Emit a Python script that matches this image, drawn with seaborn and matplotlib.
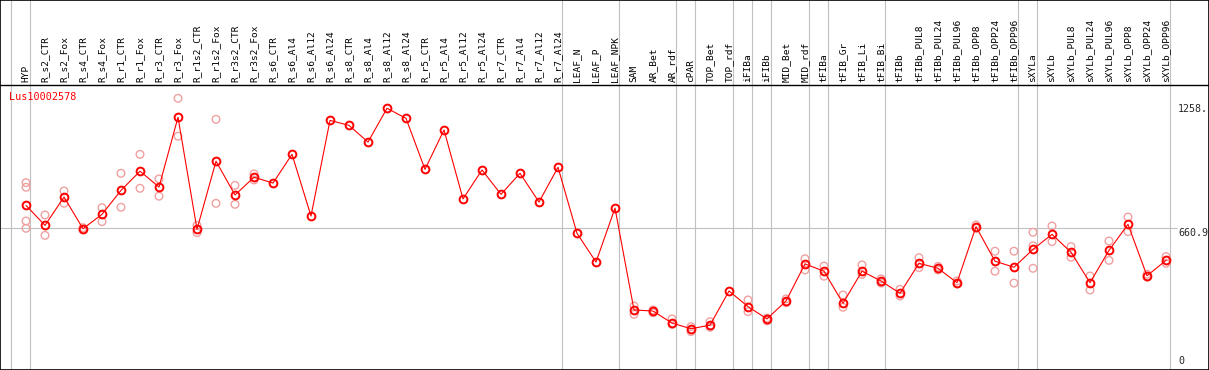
import pandas as pd
from matplotlib import pyplot as plt
import numpy as np
import seaborn as sns

gene = "Lus10002578"

samples = ["HYP", "R_s2_CTR", "R_s2_Fox", "R_s4_CTR", "R_s4_Fox", "R_r1_CTR", "R_r1_Fox",
           "R_r3_CTR", "R_r3_Fox", "R_r1s2_CTR", "R_r1s2_Fox", "R_r3s2_CTR", "R_r3s2_Fox",
           "R_s6_CTR", "R_s6_Al4", "R_s6_Al12", "R_s6_Al24", "R_s8_CTR", "R_s8_Al4",
           "R_s8_Al12", "R_s8_Al24", "R_r5_CTR", "R_r5_Al4", "R_r5_Al12", "R_r5_Al24",
           "R_r7_CTR", "R_r7_Al4", "R_r7_Al12", "R_r7_Al24", "LEAF_N", "LEAF_P", "LEAF_NPK",
           "SAM", "AR_Bet", "AR_rdf", "cPAR", "TOP_Bet", "TOP_rdf", "iFIBa", "iFIBb",
           "MID_Bet", "MID_rdf", "tFIBa", "tFIB_Gr", "tFIB_Li", "tFIB_Bi", "tFIBb",
           "tFIBb_PUL8", "tFIBb_PUL24", "tFIBb_PUL96", "tFIBb_OPP8", "tFIBb_OPP24",
           "tFIBb_OPP96", "sXYLa", "sXYLb", "sXYLb_PUL8", "sXYLb_PUL24", "sXYLb_PUL96",
           "sXYLb_OPP8", "sXYLb_OPP24", "sXYLb_OPP96"]

means = [771, 675, 811, 659, 728, 843, 935, 859, 1194, 656, 983, 821, 906,
         878, 1016, 720, 1179, 1155, 1075, 1237, 1189, 944, 1133, 802, 941,
         824, 925, 787, 954, 637, 499, 758,
         269, 264, 206, 179, 196, 360, 285, 226, 312, 490, 455, 301, 455, 408, 349,
         493, 469, 400, 669, 503, 474, 560, 632, 546, 400, 555, 680, 433, 507]

replicates = {
    "HYP": [880, 858, 696, 661], "R_s2_CTR": [725, 627], "R_s2_Fox": [840, 781],
    "R_s4_CTR": [664, 654], "R_s4_Fox": [760, 693], "R_r1_CTR": [925, 762],
    "R_r1_Fox": [1016, 853], "R_r3_CTR": [898, 815], "R_r3_Fox": [1285, 1103],
    "R_r1s2_CTR": [675, 640], "R_r1s2_Fox": [1184, 781], "R_r3s2_CTR": [867, 776],
    "R_r3s2_Fox": [922, 893], "SAM": [288, 248], "AR_Bet": [269, 256],
    "AR_rdf": [226, 200], "cPAR": [189, 165], "TOP_Bet": [213, 186],
    "iFIBa": [317, 261], "iFIBb": [217, 230], "MID_Bet": [322, 304],
    "MID_rdf": [515, 461], "tFIBa": [480, 431], "tFIB_Gr": [341, 282],
    "tFIB_Li": [485, 440], "tFIB_Bi": [418, 398], "tFIBb": [368, 336],
    "tFIBb_PUL8": [520, 472], "tFIBb_PUL24": [478, 461], "tFIBb_PUL96": [408, 394],
    "tFIBb_OPP8": [677, 662], "tFIBb_OPP24": [551, 455], "tFIBb_OPP96": [551, 398],
    "sXYLa": [642, 577, 469], "sXYLb": [672, 597], "sXYLb_PUL8": [573, 522],
    "sXYLb_PUL24": [432, 365], "sXYLb_PUL96": [600, 507], "sXYLb_OPP8": [715, 645],
    "sXYLb_OPP24": [440, 427], "sXYLb_OPP96": [525, 493],
}

# group separators come after these samples (plus one before the first)
separators_after = ["HYP", "R_r7_Al24", "LEAF_NPK", "AR_rdf", "cPAR", "TOP_rdf", "iFIBa",
                    "iFIBb", "MID_rdf", "tFIBa", "tFIB_Bi", "tFIBb_OPP96", "sXYLa", "sXYLb_OPP96"]

axis_marks = [1258, 660.9, 0]

df = pd.DataFrame({"pos": np.arange(len(samples)), "sample": samples, "value": means})
rep_rows = [(samples.index(s), v) for s, vals in replicates.items() for v in vals]
reps = pd.DataFrame(rep_rows, columns=["pos", "value"])

sns.set_style("white")
plt.rcParams["font.family"] = ["DejaVu Sans Mono"]

W, H = 1209, 370
fig = plt.figure(figsize=(W / 100, H / 100), dpi=100)
ax = fig.add_axes([0, 0, 1, 1])

# pixel <-> data mapping: sample i at x = 26 + 19 i px, value v at y = 366 - v / 4.8 px
px_per_unit = 19.0
x0 = 26.0
scale = 4.8
y_zero = 366.0
ax.set_xlim(-x0 / px_per_unit, (W - x0) / px_per_unit)
ax.set_ylim((y_zero - H) * scale, y_zero * scale)
ax.set_xticks([])
ax.set_yticks([])
for sp in ax.spines.values():
    sp.set_color("black")
    sp.set_linewidth(1.2)

def yv(py):
    return (y_zero - py) * scale

# separators and the reference line
ax.axvline(-1 + 0.22, color="#c0c0c0", lw=0.8, zorder=0)
for s in separators_after:
    ax.axvline(samples.index(s) + 0.22, color="#c0c0c0", lw=0.8, zorder=0)
ax.hlines(axis_marks[1], -x0 / px_per_unit, (1177 - x0) / px_per_unit, color="#c0c0c0", lw=0.8, zorder=0)
ax.axhline(yv(85), color="black", lw=1.0, zorder=1)

# header labels
for i, s in enumerate(samples):
    ax.text(i, yv(82), s, rotation=90, ha="center", va="bottom", fontsize=6.8, color="black")

sns.scatterplot(data=reps, x="pos", y="value", ax=ax, marker="o", s=30,
                facecolor="none", edgecolor="#f0a0a0", linewidth=1.0, zorder=3, legend=False)
sns.lineplot(data=df, x="pos", y="value", ax=ax, color="red", lw=0.8, zorder=4,
             marker="o", markersize=5.6, markerfacecolor="none", markeredgecolor="red",
             markeredgewidth=1.4)
ax.set_xlabel("")
ax.set_ylabel("")

ax.text(-x0 / px_per_unit + 9 / px_per_unit, yv(97), gene, color="red", fontsize=7.3,
        ha="left", va="center")

xr = (1178 - x0) / px_per_unit
ax.text(xr, axis_marks[0], "1258.", fontsize=7.2, ha="left", va="top")
ax.text(xr, axis_marks[1], "660.9", fontsize=7.2, ha="left", va="top")
ax.text(xr, axis_marks[2], "0", fontsize=7.2, ha="left", va="bottom")

fig.savefig("out.png", dpi=100)
